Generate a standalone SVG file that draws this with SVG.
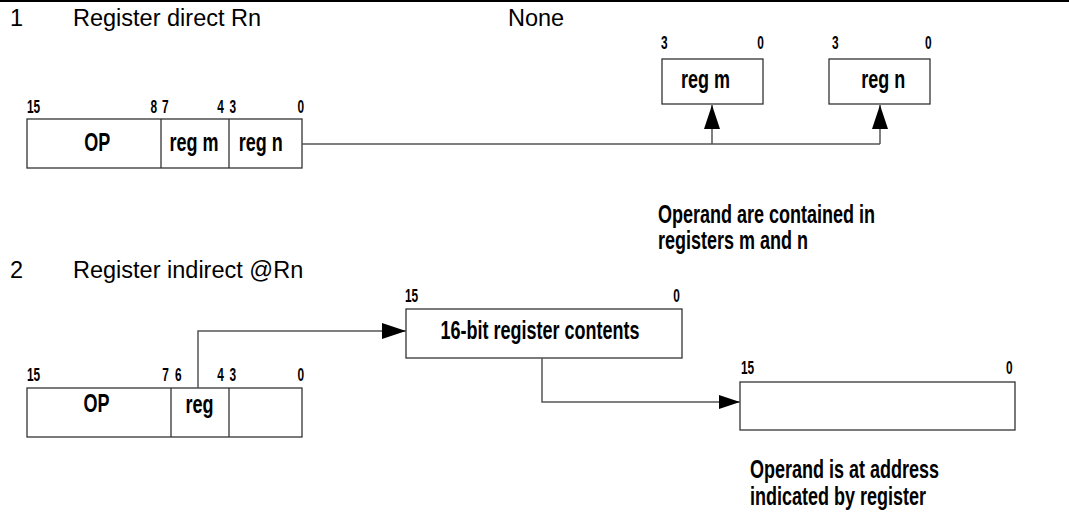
<svg xmlns="http://www.w3.org/2000/svg" width="1069" height="518" viewBox="0 0 1069 518">
<style>
.title{font-family:"Liberation Sans",Arial,sans-serif;font-size:23.5px;fill:#000}
.bit{font-family:"Liberation Sans",Arial,sans-serif;font-weight:bold;font-size:17.5px;fill:#000}
.lbl{font-family:"Liberation Sans",Arial,sans-serif;font-weight:bold;font-size:25px;fill:#000}
.box{fill:#fff;stroke:#333;stroke-width:1.3}
.div{stroke:#333;stroke-width:1.3}
.conn{fill:none;stroke:#555;stroke-width:1.5}
.mid{text-anchor:middle}
.end{text-anchor:end}
</style>
<defs>
<marker id="ah" viewBox="0 0 24 16" refX="24" refY="8" markerWidth="24" markerHeight="16" markerUnits="userSpaceOnUse" orient="auto">
<path d="M0,0 L24,8 L0,16 z" fill="#000"/>
</marker>
<marker id="ahs" viewBox="0 0 21 14" refX="21" refY="7" markerWidth="21" markerHeight="14" markerUnits="userSpaceOnUse" orient="auto">
<path d="M0,0 L21,7 L0,14 z" fill="#000"/>
</marker>
</defs>
<rect x="0" y="0" width="1069" height="518" fill="#fff"/>
<line x1="0" y1="1" x2="1069" y2="1" stroke="#000" stroke-width="2"/>

<g id="section1-title">
<text class="title" x="10" y="26">1</text>
<text class="title" x="73" y="26">Register direct Rn</text>
<text class="title" x="508" y="26">None</text>
</g>

<g id="instr1">
<rect class="box" x="27" y="119" width="275" height="49"/>
<line class="div" x1="161" y1="119" x2="161" y2="168"/>
<line class="div" x1="229" y1="119" x2="229" y2="168"/>
<g transform="scale(0.68 1)">
<text class="bit" x="39.7" y="113">15</text>
<text class="bit end" x="230.9" y="113">8</text>
<text class="bit" x="238.2" y="113">7</text>
<text class="bit end" x="329.4" y="113">4</text>
<text class="bit" x="337.5" y="113">3</text>
<text class="bit end" x="447.1" y="113">0</text>
</g>
<g transform="scale(0.72 1)">
<text class="lbl mid" x="135" y="151">OP</text>
<text class="lbl mid" x="269.4" y="151">reg m</text>
<text class="lbl mid" x="362.1" y="151">reg n</text>
</g>
</g>

<g id="regm">
<rect class="box" x="662" y="59" width="101" height="45"/>
<g transform="scale(0.68 1)">
<text class="bit" x="972.1" y="49">3</text>
<text class="bit end" x="1123.5" y="49">0</text>
</g>
<g transform="scale(0.72 1)">
<text class="lbl mid" x="979.9" y="88">reg m</text>
</g>
</g>

<g id="regn">
<rect class="box" x="829" y="59" width="101" height="45"/>
<g transform="scale(0.68 1)">
<text class="bit" x="1223.5" y="49">3</text>
<text class="bit end" x="1369.9" y="49">0</text>
</g>
<g transform="scale(0.72 1)">
<text class="lbl mid" x="1226.8" y="88">reg n</text>
</g>
</g>

<g id="note1">
<g transform="scale(0.72 1)">
<text class="lbl" x="913.9" y="223">Operand are contained in</text>
<text class="lbl" x="913.9" y="249">registers m and n</text>
</g>
</g>

<g id="section2-title">
<text class="title" x="10" y="278">2</text>
<text class="title" x="73" y="278">Register indirect @Rn</text>
</g>

<g id="instr2">
<rect class="box" x="27" y="388" width="275" height="49"/>
<line class="div" x1="171" y1="388" x2="171" y2="437"/>
<line class="div" x1="229" y1="388" x2="229" y2="437"/>
<g transform="scale(0.68 1)">
<text class="bit" x="39.7" y="381">15</text>
<text class="bit end" x="248.5" y="381">7</text>
<text class="bit" x="257.4" y="381">6</text>
<text class="bit end" x="329.4" y="381">4</text>
<text class="bit" x="337.5" y="381">3</text>
<text class="bit end" x="447.1" y="381">0</text>
</g>
<g transform="scale(0.72 1)">
<text class="lbl mid" x="134" y="412">OP</text>
<text class="lbl mid" x="277.1" y="413">reg</text>
</g>
</g>

<g id="regcontents">
<rect class="box" x="406" y="309" width="276" height="49"/>
<g transform="scale(0.68 1)">
<text class="bit" x="595.6" y="302">15</text>
<text class="bit end" x="1000" y="302">0</text>
</g>
<g transform="scale(0.72 1)">
<text class="lbl mid" x="750" y="339">16-bit register contents</text>
</g>
</g>

<g id="operand">
<rect class="box" x="740" y="382" width="275" height="48"/>
<g transform="scale(0.68 1)">
<text class="bit" x="1089.7" y="374">15</text>
<text class="bit end" x="1489" y="374">0</text>
</g>
</g>

<g id="note2">
<g transform="scale(0.72 1)">
<text class="lbl" x="1041.7" y="478">Operand is at address</text>
<text class="lbl" x="1041.7" y="505">indicated by register</text>
</g>
</g>

<g id="connectors">
<polyline class="conn" points="302,144 880,144"/>
<line class="conn" x1="712" y1="144" x2="712" y2="105" marker-end="url(#ah)"/>
<line class="conn" x1="880" y1="144" x2="880" y2="105" marker-end="url(#ah)"/>
<polyline class="conn" points="198,388 198,331 406,331" marker-end="url(#ah)"/>
<polyline class="conn" points="542,358 542,402 740,402" marker-end="url(#ahs)"/>
</g>
</svg>
